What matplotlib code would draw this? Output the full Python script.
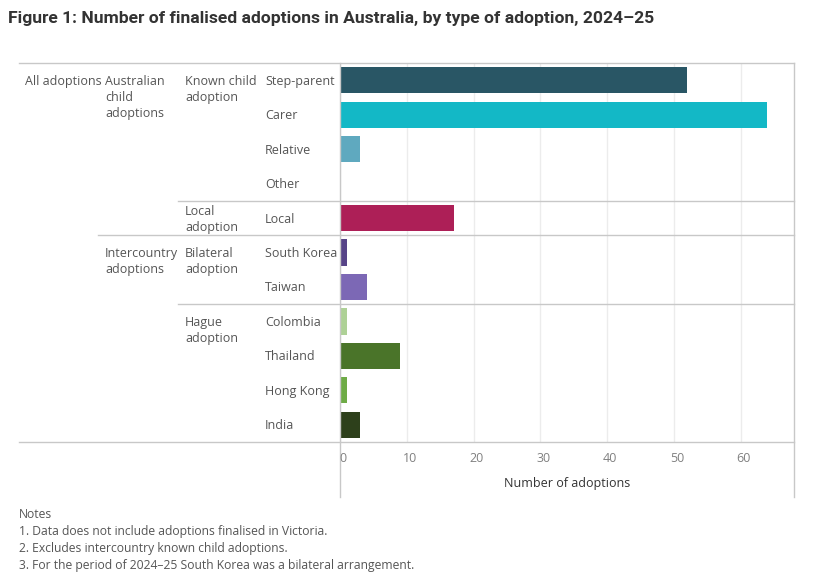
import matplotlib
matplotlib.use("Agg")
import matplotlib.pyplot as plt
import numpy as np

# ---------------- data ----------------
categories = ["Step-parent", "Carer", "Relative", "Other", "Local",
              "South Korea", "Taiwan", "Colombia", "Thailand", "Hong Kong", "India"]
values = [52, 64, 3, 0, 17, 1, 4, 1, 9, 1, 3]
bar_colors = ["#295665", "#13b8c6", "#5fa9bf", "#cccccc", "#ad1f57",
              "#574488", "#7c68b5", "#aed196", "#4a7429", "#6eab46", "#2d401b"]
# hierarchy: (label, first row index, last row index)
level1 = [("All adoptions", 0, 10)]
level2 = [("Australian\nchild\nadoptions", 0, 4), ("Intercountry\nadoptions", 5, 10)]
level3 = [("Known child\nadoption", 0, 3), ("Local\nadoption", 4, 4),
          ("Bilateral\nadoption", 5, 6), ("Hague\nadoption", 7, 10)]
x_ticks = [0, 10, 20, 30, 40, 50, 60]
x_label = "Number of adoptions"
title = "Figure 1: Number of finalised adoptions in Australia, by type of adoption, 2024\u201325"
notes = ["Notes",
         "1. Data does not include adoptions finalised in Victoria.",
         "2. Excludes intercountry known child adoptions.",
         "3. For the period of 2024\u201325 South Korea was a bilateral arrangement."]

# ---------------- layout ----------------
W, H = 814, 583
fig = plt.figure(figsize=(W / 100, H / 100), dpi=100)
fig.patch.set_facecolor("white")

top, bottom = 63, 442
left, right = 340, 794
n = len(categories)
row_h = (bottom - top) / n

ax = fig.add_axes([left / W, 1 - bottom / H, (right - left) / W, (bottom - top) / H])
y = np.arange(n)
ax.barh(y, values, height=0.76, color=bar_colors, zorder=3)
ax.set_ylim(n - 0.5, -0.5)
ax.set_xlim(0, 68)
ax.set_xticks(x_ticks)
ax.xaxis.grid(True, color="#ececec", linewidth=1, zorder=0)
ax.set_yticks([])
ax.tick_params(axis="x", length=0, labelbottom=False)
for s in ax.spines.values():
    s.set_visible(False)

# overlay in pixel coordinates
ov = fig.add_axes([0, 0, 1, 1], zorder=5)
ov.set_xlim(0, W)
ov.set_ylim(H, 0)
ov.axis("off")
ov.patch.set_alpha(0)

line_c = "#c8c8c8"
txt_c = "#555555"
font = "Open Sans"

def row_top(i):
    return top + i * row_h

# horizontal border lines
ov.plot([19, right], [top, top], color=line_c, lw=1)
ov.plot([19, right], [bottom, bottom], color=line_c, lw=1)
ov.plot([178, right], [row_top(4), row_top(4)], color=line_c, lw=1)
ov.plot([98, right], [row_top(5), row_top(5)], color=line_c, lw=1)
ov.plot([178, right], [row_top(7), row_top(7)], color=line_c, lw=1)
# vertical lines
ov.plot([left, left], [top, 497], color=line_c, lw=1)
ov.plot([right, right], [top, 497], color=line_c, lw=1)

# category labels
for i, c in enumerate(categories):
    ov.text(265, row_top(i) + row_h / 2 + 1, c, ha="left", va="center",
            fontsize=9, color=txt_c, family=font)

LINE = 16
def group_labels(groups, x):
    for lab, a, b in groups:
        lines = lab.split("\n")
        first = min(row_top(a) + row_h / 2 + 1,
                    row_top(b + 1) - 8 - (len(lines) - 1) * LINE)
        for k, line in enumerate(lines):
            ov.text(x, first + k * LINE, line, ha="left",
                    va="center", fontsize=9, color=txt_c, family=font)

group_labels(level1, 25)
group_labels(level2, 105)
group_labels(level3, 185)

# x tick labels
for t in x_ticks:
    px = left + (right - left) * t / 68
    ov.text(px + 3, 458, str(t), ha="center", va="center", fontsize=9,
            color="#808080", family=font)
ov.text(567, 483, x_label, ha="center", va="center", fontsize=9,
        color="#333333", family=font)

# title
ov.text(8, 18, title, ha="left", va="center", fontsize=12.6, fontweight="bold",
        color="#333333", family="Roboto")

# notes
for k, t in enumerate(notes):
    ov.text(19, 514 + k * 17.3, t, ha="left", va="center", fontsize=8.7,
            color=txt_c, family=font)

fig.savefig("out.png", dpi=100)
